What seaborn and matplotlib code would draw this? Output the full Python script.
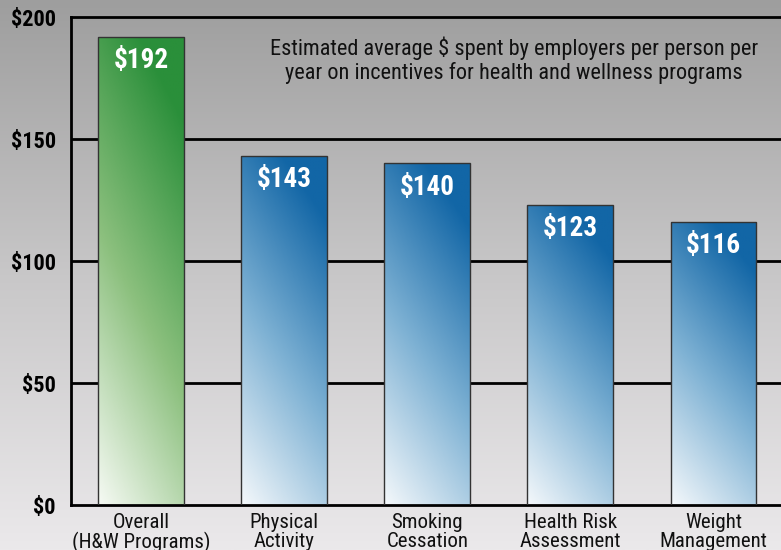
import numpy as np
import pandas as pd
import matplotlib
matplotlib.use("Agg")
import matplotlib.pyplot as plt
from matplotlib.colors import LinearSegmentedColormap
import seaborn as sns

categories = ["Overall\n(H&W Programs)", "Physical\nActivity", "Smoking\nCessation",
              "Health Risk\nAssessment", "Weight\nManagement"]
values = [192, 143, 140, 123, 116]
bar_labels = ["$192", "$143", "$140", "$123", "$116"]
y_ticks = [0, 50, 100, 150, 200]
y_tick_labels = ["$0", "$50", "$100", "$150", "$200"]
title = ("Estimated average $ spent by employers per person per\n"
         "year on incentives for health and wellness programs")

sns.set_style("white")
plt.rcParams["font.family"] = ["Roboto Condensed", "Liberation Sans Narrow",
                               "Liberation Sans", "DejaVu Sans"]

df = pd.DataFrame({"category": categories, "value": values})

fig = plt.figure(figsize=(7.81, 5.5), dpi=100)

# gray background gradient (darker at top)
bg = fig.add_axes([0, 0, 1, 1], zorder=-10)
grad = np.linspace(0, 1, 256).reshape(-1, 1)
bg_cmap = LinearSegmentedColormap.from_list("bg", ["#9e9e9e", "#c8c7c8", "#ebe9eb"])
bg.imshow(grad, aspect="auto", cmap=bg_cmap, extent=[0, 1, 0, 1], origin="upper")
bg.axis("off")

ax = fig.add_axes([71 / 781, 45 / 550, (785 - 71) / 781, (505 - 17) / 550])
ax.patch.set_alpha(0)

sns.barplot(data=df, x="category", y="value", ax=ax, width=0.6,
            color="white", edgecolor="#333333", linewidth=1, zorder=3)

green = LinearSegmentedColormap.from_list("g", ["#f6faf4", "#8cc07e", "#2a8f3a"])
blue = LinearSegmentedColormap.from_list("b", ["#f4f8fb", "#7fb2d4", "#1266a6"])

ny, nx = 200, 60
vv, uu = np.mgrid[0:1:ny * 1j, 0:1:nx * 1j]
t = np.clip(vv * 0.85 + uu * 0.3, 0, 1)

for i, patch in enumerate(ax.patches):
    x0, y0 = patch.get_x(), patch.get_y()
    w, h = patch.get_width(), patch.get_height()
    patch.set_facecolor("none")
    cmap = green if i == 0 else blue
    im = ax.imshow(t, cmap=cmap, vmin=0, vmax=1, origin="lower", aspect="auto",
                   extent=[x0, x0 + w, y0, y0 + h], zorder=2.5, interpolation="bilinear")
    im.set_clip_path(patch)
    ax.annotate(bar_labels[i], (x0 + w / 2, y0 + h), xytext=(0, -17),
                textcoords="offset points", ha="center", va="center",
                color="white", fontsize=19.5, fontweight="bold", zorder=5)

ax.set_xlim(-0.49, 4.5)
ax.set_ylim(0, 200)
ax.set_yticks(y_ticks)
ax.set_yticklabels(y_tick_labels, fontsize=16, fontweight="bold", color="black")
for yv in y_ticks[1:-1]:
    ax.axhline(yv, color="black", lw=2, zorder=1)

ax.set_xticks(range(len(categories)))
ax.set_xticklabels(categories, fontsize=15, linespacing=1.0, color="#111111")
ax.set_xticks([0.5, 1.5, 2.5, 3.5], minor=True)
ax.tick_params(axis="x", which="major", length=0, pad=6)
ax.tick_params(axis="x", which="minor", direction="in", length=12, width=2, color="black")
ax.tick_params(axis="y", length=0, pad=11)
ax.set_xlabel("")
ax.set_ylabel("")

for side in ["left", "top", "bottom"]:
    ax.spines[side].set_color("black")
    ax.spines[side].set_linewidth(2)
ax.spines["right"].set_visible(False)

fig.text(514 / 781, 1 - 60 / 550, title, ha="center", va="center",
         fontsize=16, color="#111111", linespacing=1.1)

fig.savefig("out.png", dpi=100)
